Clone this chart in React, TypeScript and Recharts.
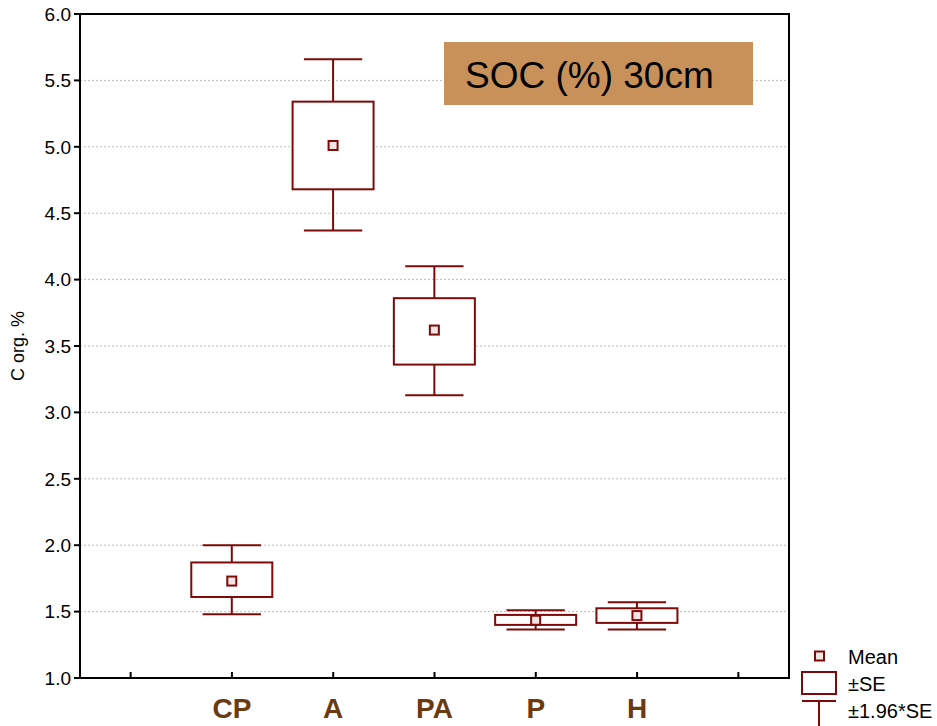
import { ComposedChart, Bar, XAxis, YAxis, CartesianGrid, ReferenceArea } from 'recharts';

// groups, with an empty slot on each side like the original plot
const groups = ['CP', 'A', 'PA', 'P', 'H'];
const means = [1.73, 5.01, 3.62, 1.435, 1.47];
const seLow = [1.61, 4.68, 3.36, 1.4, 1.415];
const seHigh = [1.87, 5.34, 3.86, 1.475, 1.525];
const ciLow = [1.48, 4.37, 3.13, 1.365, 1.365];
const ciHigh = [2.0, 5.66, 4.1, 1.51, 1.57];
const yTicks = [1, 1.5, 2, 2.5, 3, 3.5, 4, 4.5, 5, 5.5, 6];
const legendItems = ['Mean', '±SE', '±1.96*SE'];

const BOX = '#7d0a0a';
const FONT = "'Liberation Sans', Arial, sans-serif";

const data = [
    { key: 'pad1', name: '' },
    ...groups.map((g, i) => ({
        key: g,
        name: g,
        range: [ciLow[i], ciHigh[i]],
        mean: means[i],
        seLow: seLow[i],
        seHigh: seHigh[i],
    })),
    { key: 'pad2', name: '' },
];

const BoxShape = (props: any) => {
    const { x, y, width, height, payload } = props;
    if (!payload || !payload.range) return null;
    const [lo, hi] = payload.range;
    const py = (v: number) => y + ((hi - v) / (hi - lo)) * height;
    const cx = x + width / 2;
    const cap = width * 0.36;
    const top = py(payload.seHigh);
    const bot = py(payload.seLow);
    const m = py(payload.mean);
    return (
        <g stroke={BOX} strokeWidth={2} fill="none">
            <line x1={cx} y1={y} x2={cx} y2={top} />
            <line x1={cx} y1={bot} x2={cx} y2={y + height} />
            <line x1={cx - cap} y1={y} x2={cx + cap} y2={y} />
            <line x1={cx - cap} y1={y + height} x2={cx + cap} y2={y + height} />
            <rect x={x} y={top} width={width} height={bot - top} fill="#fff" />
            <rect x={cx - 4.5} y={m - 4.5} width={9} height={9} fill="#f4e4e4" />
        </g>
    );
};

const XTick = (props: any) => {
    const { x, y, payload } = props;
    const label = data[payload.index]?.name ?? '';
    return (
        <g>
            <line x1={x} y1={y} x2={x} y2={y - 6} stroke="#000" strokeWidth={2} />
            <text
                x={x}
                y={y + 40}
                textAnchor="middle"
                fill="#6b3a0e"
                fontSize={28}
                fontWeight="bold"
                fontFamily={FONT}
            >
                {label}
            </text>
        </g>
    );
};

const YLabel = (props: any) => {
    const { viewBox } = props;
    const cy = viewBox.y + viewBox.height / 2;
    return (
        <text
            x={24}
            y={cy}
            transform={`rotate(-90, 24, ${cy})`}
            textAnchor="middle"
            fontSize={18}
            fontFamily={FONT}
            fill="#000"
        >
            C org. %
        </text>
    );
};

export default function App() {
    return (
        <div style={{ position: 'absolute', left: 0, top: 0, width: 937, height: 726, background: '#fff' }}>
            <ComposedChart width={937} height={726} data={data} margin={{ top: 14, right: 148, bottom: 0, left: 0 }}>
                <CartesianGrid vertical={false} stroke="#bbbbbb" strokeDasharray="2 2" />
                <XAxis
                    dataKey="key"
                    height={48}
                    interval={0}
                    tickSize={0}
                    tickMargin={0}
                    tickLine={false}
                    axisLine={{ stroke: '#000', strokeWidth: 2 }}
                    tick={<XTick />}
                />
                <YAxis
                    width={80}
                    domain={[1, 6]}
                    ticks={yTicks}
                    type="number"
                    allowDataOverflow
                    tickFormatter={(v: number) => v.toFixed(1)}
                    tickSize={6}
                    tickMargin={3}
                    tick={{ fill: '#000', fontSize: 19, fontFamily: FONT }}
                    tickLine={{ stroke: '#000', strokeWidth: 2 }}
                    axisLine={{ stroke: '#000', strokeWidth: 2 }}
                    label={<YLabel />}
                />
                {/* plot frame */}
                <ReferenceArea y1={1} y2={6} fill="none" stroke="#000" strokeWidth={2} ifOverflow="visible" />
                <Bar dataKey="range" barSize={81} shape={<BoxShape />} isAnimationActive={false} />
            </ComposedChart>

            <div
                style={{
                    position: 'absolute',
                    left: 444,
                    top: 42,
                    width: 309,
                    height: 63,
                    background: '#c8915a',
                    fontFamily: FONT,
                    fontSize: 37,
                    lineHeight: '63px',
                    paddingLeft: 21,
                    paddingTop: 2,
                    boxSizing: 'border-box',
                    color: '#000',
                }}
            >
                SOC (%) 30cm
            </div>

            <svg style={{ position: 'absolute', left: 795, top: 640 }} width={142} height={86}>
                <rect x={20} y={11.5} width={9} height={9} fill="#f4e4e4" stroke={BOX} strokeWidth={2} />
                <rect x={7} y={32} width={34} height={22} fill="#fff" stroke={BOX} strokeWidth={2} />
                <line x1={7} y1={61} x2={41} y2={61} stroke={BOX} strokeWidth={2} />
                <line x1={24} y1={61} x2={24} y2={86} stroke={BOX} strokeWidth={2} />
                {legendItems.map((t, i) => (
                    <text key={t} x={53} y={24 + i * 27} fontSize={20} fontFamily={FONT} fill="#000">
                        {t}
                    </text>
                ))}
            </svg>
        </div>
    );
}
